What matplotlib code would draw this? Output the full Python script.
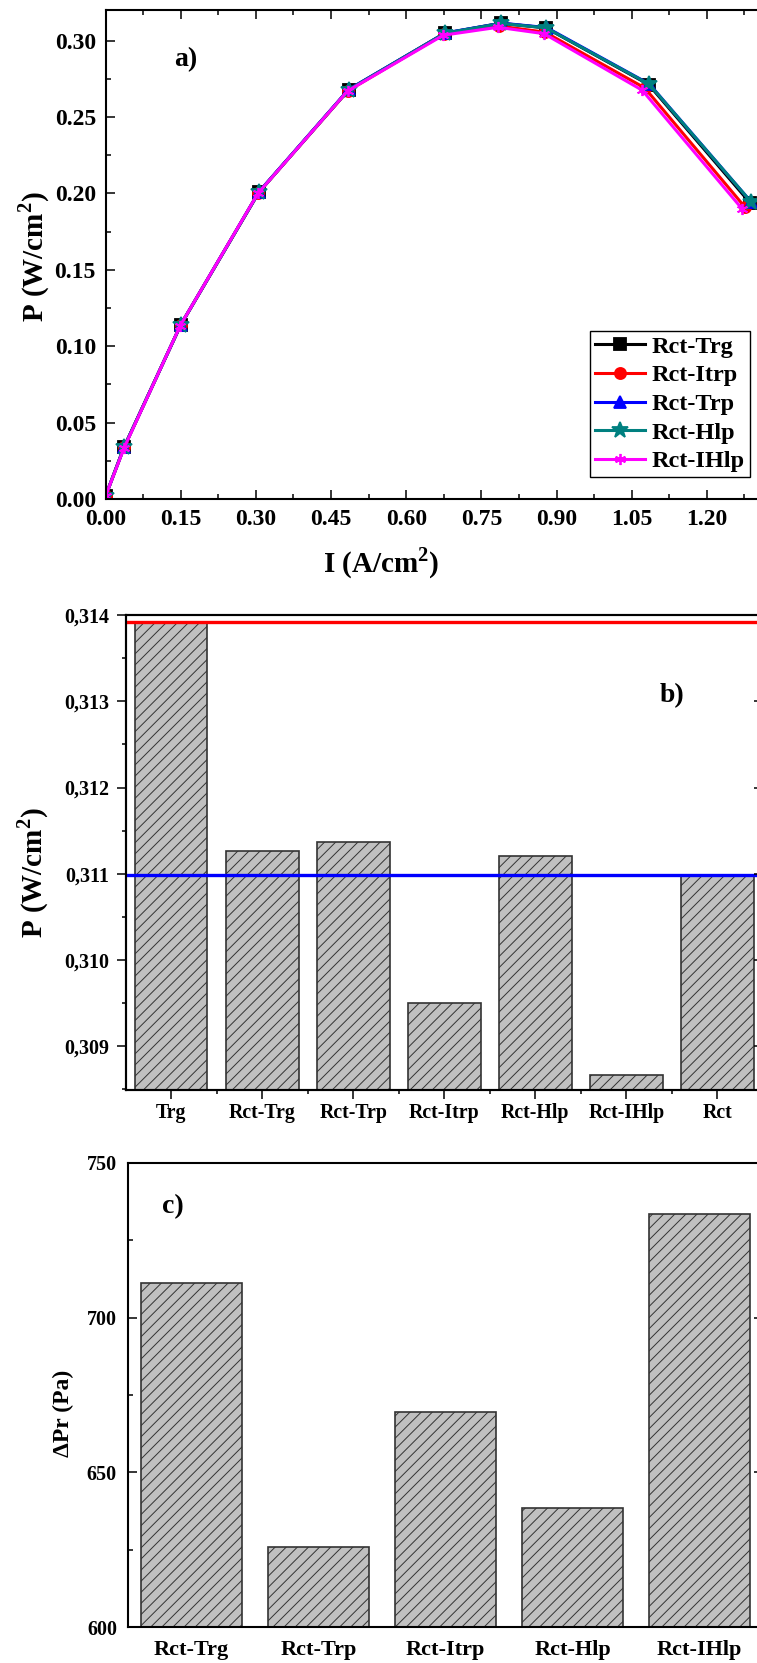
import numpy as np
import matplotlib
matplotlib.use('Agg')
import matplotlib.pyplot as plt
from matplotlib.ticker import MultipleLocator, FuncFormatter

plt.rcParams['font.family'] = ['Liberation Serif', 'DejaVu Serif']
plt.rcParams['font.weight'] = 'bold'
plt.rcParams['axes.labelweight'] = 'bold'
plt.rcParams['mathtext.fontset'] = 'custom'
plt.rcParams['mathtext.rm'] = 'Liberation Serif:bold'
plt.rcParams['mathtext.bf'] = 'Liberation Serif:bold'
plt.rcParams['hatch.linewidth'] = 0.7
plt.rcParams['axes.linewidth'] = 1.5

# --- a) power density curves
names_a = ['Rct-Trg', 'Rct-Itrp', 'Rct-Trp', 'Rct-Hlp', 'Rct-IHlp']
colors_a = ['black', 'red', 'blue', '#008080', 'magenta']
markers_a = ['s', 'o', '^', '*', (6, 2, 0)]
I_trg = [0.0, 0.037, 0.150, 0.306, 0.485, 0.677, 0.789, 0.879, 1.084, 1.287]
P_trg = [0.002, 0.034, 0.114, 0.2008, 0.2678, 0.3048, 0.3113, 0.3083, 0.2712, 0.1935]
I_itrp = [0.0, 0.037, 0.150, 0.305, 0.484, 0.675, 0.785, 0.877, 1.076, 1.276]
P_itrp = [0.002, 0.034, 0.114, 0.2004, 0.2672, 0.3042, 0.3095, 0.3055, 0.2690, 0.1910]
I_trp = [0.0, 0.037, 0.150, 0.306, 0.485, 0.678, 0.790, 0.880, 1.085, 1.288]
P_trp = [0.002, 0.034, 0.114, 0.2010, 0.2680, 0.3050, 0.3114, 0.3085, 0.2716, 0.1945]
I_hlp = [0.0, 0.037, 0.150, 0.306, 0.485, 0.677, 0.789, 0.879, 1.085, 1.288]
P_hlp = [0.002, 0.034, 0.114, 0.2008, 0.2678, 0.3048, 0.3112, 0.3083, 0.2714, 0.1945]
I_ihlp = [0.0, 0.037, 0.149, 0.304, 0.483, 0.674, 0.783, 0.875, 1.071, 1.270]
P_ihlp = [0.002, 0.0335, 0.1135, 0.2000, 0.2670, 0.3035, 0.3087, 0.3045, 0.2675, 0.1900]

# --- b) max power
cats_b = ['Trg', 'Rct-Trg', 'Rct-Trp', 'Rct-Itrp', 'Rct-Hlp', 'Rct-IHlp', 'Rct']
pmax_b = [0.31392, 0.311264, 0.311371, 0.309499, 0.311209, 0.308663, 0.31099]

# --- c) pressure drop
cats_c = ['Rct-Trg', 'Rct-Trp', 'Rct-Itrp', 'Rct-Hlp', 'Rct-IHlp']
dpr_c = [711.3, 626.0, 669.5, 638.6, 733.5]

W, H = 757, 1663
def box(l, t, r, b):
    return [l/float(W), 1-b/float(H), (r-l)/float(W), (b-t)/float(H)]

fig = plt.figure(figsize=(W/100.0, H/100.0), dpi=100)

# ---------------- panel a
ax1 = fig.add_axes(box(105.6, 10, 767, 499))
curves = [(I_trg, P_trg), (I_itrp, P_itrp), (I_trp, P_trp), (I_hlp, P_hlp), (I_ihlp, P_ihlp)]
for k in range(5):
    ms = 12 if markers_a[k] == '*' else 8
    ax1.plot(curves[k][0], curves[k][1], color=colors_a[k], marker=markers_a[k],
             ms=ms, mec=colors_a[k], mew=1.3, lw=2.2, label=names_a[k])
ax1.set_xlim(0, 1.32)
ax1.set_ylim(0, 0.32)
ax1.xaxis.set_major_locator(MultipleLocator(0.15))
ax1.xaxis.set_minor_locator(MultipleLocator(0.075))
ax1.yaxis.set_major_locator(MultipleLocator(0.05))
ax1.yaxis.set_minor_locator(MultipleLocator(0.025))
ax1.xaxis.set_major_formatter(FuncFormatter(lambda v, p: '%.2f' % v))
ax1.yaxis.set_major_formatter(FuncFormatter(lambda v, p: '%.2f' % v))
ax1.tick_params(which='both', direction='in', top=True, right=True, width=1.1, labelsize=17, pad=7)
ax1.tick_params(which='major', length=6.5)
ax1.tick_params(which='minor', length=3.4)
ax1.set_xlabel('I (A/cm$^2$)', fontsize=21, va='center')
ax1.xaxis.set_label_coords((381-105.6)/661.4, -(563-499)/489.0)
ax1.set_ylabel('P (W/cm$^2$)', fontsize=21, va='center')
ax1.yaxis.set_label_coords((34-105.6)/661.4, (499-257)/489.0)
leg = ax1.legend(loc='upper right', bbox_to_anchor=(750.0/W, 1-331.0/H), bbox_transform=fig.transFigure,
                 fontsize=17.5, frameon=True, fancybox=False, edgecolor='black', framealpha=1,
                 handlelength=2.05, handletextpad=0.3, labelspacing=0.27, borderpad=0.2, borderaxespad=0)
leg.get_frame().set_linewidth(1.0)
fig.text(174.0/W, 1-60.0/H, 'a)', fontsize=20, va='center', ha='left')

# ---------------- panel b
ax2 = fig.add_axes(box(125.5, 615, 763, 1090))
xb = np.arange(len(cats_b))
ax2.bar(xb, pmax_b, width=0.8, color='#c0c0c0', edgecolor='#333333', linewidth=1.2, hatch='///', zorder=2)
ax2.axhline(pmax_b[0], color='red', lw=2.4, zorder=3)
ax2.axhline(pmax_b[-1], color='blue', lw=2.4, zorder=3)
ax2.set_xlim(-0.5, len(cats_b)-0.5)
ax2.set_ylim(0.308494, 0.314)
ax2.set_xticks(xb)
ax2.set_xticklabels(cats_b)
ax2.set_xticks(xb[:-1]+0.5, minor=True)
ax2.yaxis.set_major_locator(MultipleLocator(0.001))
ax2.yaxis.set_minor_locator(MultipleLocator(0.0005))
ax2.yaxis.set_major_formatter(FuncFormatter(lambda v, p: ('%.3f' % v).replace('.', ',')))
ax2.tick_params(which='both', direction='out', width=1.1)
ax2.tick_params(which='major', length=6.5)
ax2.tick_params(which='minor', length=3)
ax2.tick_params(axis='y', labelsize=14.4, pad=5)
ax2.tick_params(axis='x', labelsize=14.3, pad=3)
ax2r = ax2.twinx()
ax2r.set_ylim(ax2.get_ylim())
ax2r.yaxis.set_major_locator(MultipleLocator(0.001))
ax2r.tick_params(direction='in', length=6.5, width=1.1, labelright=False)
ax2.set_ylabel('P (W/cm$^2$)', fontsize=21, va='center')
ax2.yaxis.set_label_coords((33-125.5)/637.5, (1090-873)/475.0)
fig.text(660.0/W, 1-696.0/H, 'b)', fontsize=20, va='center', ha='left')

# ---------------- panel c
ax3 = fig.add_axes(box(128, 1162.7, 763, 1627.3))
xc = np.arange(len(cats_c))
ax3.bar(xc, dpr_c, width=0.8, color='#c0c0c0', edgecolor='#333333', linewidth=1.2, hatch='///', zorder=2)
ax3.set_xlim(-0.5, len(cats_c)-0.5)
ax3.set_ylim(600, 750)
ax3.set_xticks(xc)
ax3.set_xticklabels(cats_c)
ax3.yaxis.set_major_locator(MultipleLocator(50))
ax3.yaxis.set_minor_locator(MultipleLocator(25))
ax3.tick_params(axis='y', which='both', direction='in', right=True, width=1.1, labelsize=14.4, pad=8)
ax3.tick_params(axis='y', which='major', length=6.5)
ax3.tick_params(axis='y', which='minor', length=3.4)
ax3.tick_params(axis='x', length=0, labelsize=16, pad=9)
ax3.set_ylabel('ΔPr (Pa)', fontsize=17, va='center')
ax3.yaxis.set_label_coords((63-128)/635.0, (1627.3-1413)/464.6)
fig.text(162.0/W, 1-1207.0/H, 'c)', fontsize=20, va='center', ha='left')

fig.savefig('out.png', dpi=100)
